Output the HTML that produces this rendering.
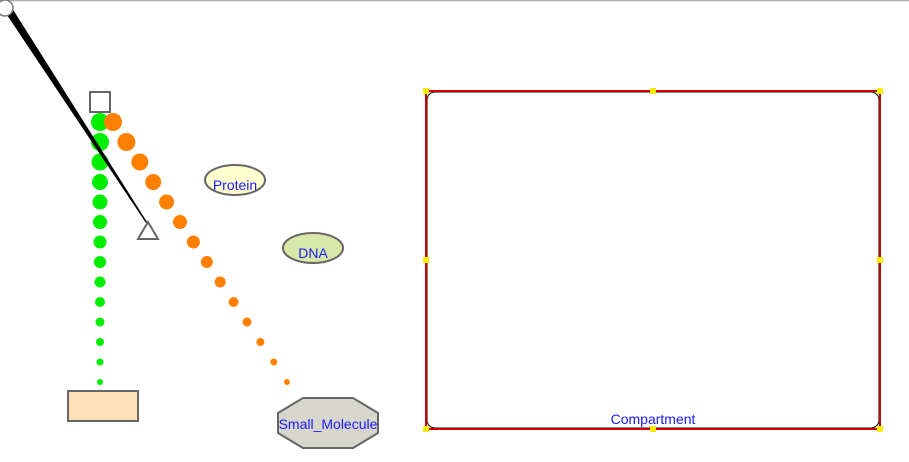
<!DOCTYPE html>
<html><head><meta charset="utf-8"><style>
html,body{margin:0;padding:0;background:#fff;}
svg{display:block;}
text{font-family:"Liberation Sans","DejaVu Sans",sans-serif;font-size:14px;fill:#1a1aff;}
</style></head><body>
<svg width="909" height="462" viewBox="0 0 909 462" xmlns="http://www.w3.org/2000/svg">
<line x1="0" y1="0.5" x2="909" y2="0.5" stroke="#aaa" stroke-width="1.5"/>
<rect x="90" y="92" width="20" height="20" fill="#fff" stroke="#666" stroke-width="2"/>
<polygon points="148,222 158,239 138,239" fill="#fff" stroke="#666" stroke-width="2"/>
<g fill="#00ee00">
<circle cx="100" cy="122" r="9"/><circle cx="100" cy="142" r="9"/><circle cx="100" cy="162" r="8.5"/><circle cx="100" cy="182" r="8"/><circle cx="100" cy="202" r="7.5"/><circle cx="100" cy="222" r="7"/><circle cx="100" cy="242" r="6.5"/><circle cx="100" cy="262" r="6"/><circle cx="100" cy="282" r="5.5"/><circle cx="100" cy="302" r="5"/><circle cx="100" cy="322" r="4.5"/><circle cx="100" cy="342" r="4"/><circle cx="100" cy="362" r="3.5"/><circle cx="100" cy="382" r="3"/>
</g>
<g fill="#ff8000">
<circle cx="113" cy="122" r="9"/><circle cx="126.4" cy="142" r="9"/><circle cx="139.8" cy="162" r="8.5"/><circle cx="153.2" cy="182" r="8"/><circle cx="166.6" cy="202" r="7.5"/><circle cx="180" cy="222" r="7"/><circle cx="193.4" cy="242" r="6.5"/><circle cx="206.8" cy="262" r="6"/><circle cx="220.2" cy="282" r="5.5"/><circle cx="233.6" cy="302" r="5"/><circle cx="247" cy="322" r="4.5"/><circle cx="260.4" cy="342" r="4"/><circle cx="273.8" cy="362" r="3.5"/><circle cx="287" cy="382" r="3"/>
</g>
<polygon points="5,12 12,8 147,222 146,223" fill="#000"/>
<circle cx="5" cy="8" r="8" fill="#fff" stroke="#777" stroke-width="1.5"/>
<rect x="68" y="391" width="70" height="30" fill="#ffe1b9" stroke="#666" stroke-width="2"/>
<polygon points="303,398 353,398 378,413 378,433 353,448 303,448 278,433 278,413" fill="#d6d6cc" stroke="#666" stroke-width="2"/>
<text x="328" y="429" text-anchor="middle">Small_Molecule</text>
<ellipse cx="235" cy="180" rx="30" ry="15" fill="#ffffd0" stroke="#666" stroke-width="2"/>
<text x="235" y="190" text-anchor="middle">Protein</text>
<ellipse cx="313" cy="248" rx="30" ry="15" fill="#d8e8a8" stroke="#666" stroke-width="2"/>
<text x="313" y="258" text-anchor="middle">DNA</text>
<rect x="427" y="92" width="452" height="336" rx="8" fill="#fff" stroke="#000" stroke-width="1"/>
<rect x="426" y="91" width="454" height="338" fill="none" stroke="#cc0000" stroke-width="2"/>
<g fill="#ffee00">
<rect x="423" y="88" width="6" height="6"/><rect x="650" y="88" width="6" height="6"/><rect x="877" y="88" width="6" height="6"/>
<rect x="423" y="257" width="6" height="6"/><rect x="877" y="257" width="6" height="6"/>
<rect x="423" y="426" width="6" height="6"/><rect x="650" y="426" width="6" height="6"/><rect x="877" y="426" width="6" height="6"/>
</g>
<text x="653" y="424" text-anchor="middle">Compartment</text>
</svg>
</body></html>
